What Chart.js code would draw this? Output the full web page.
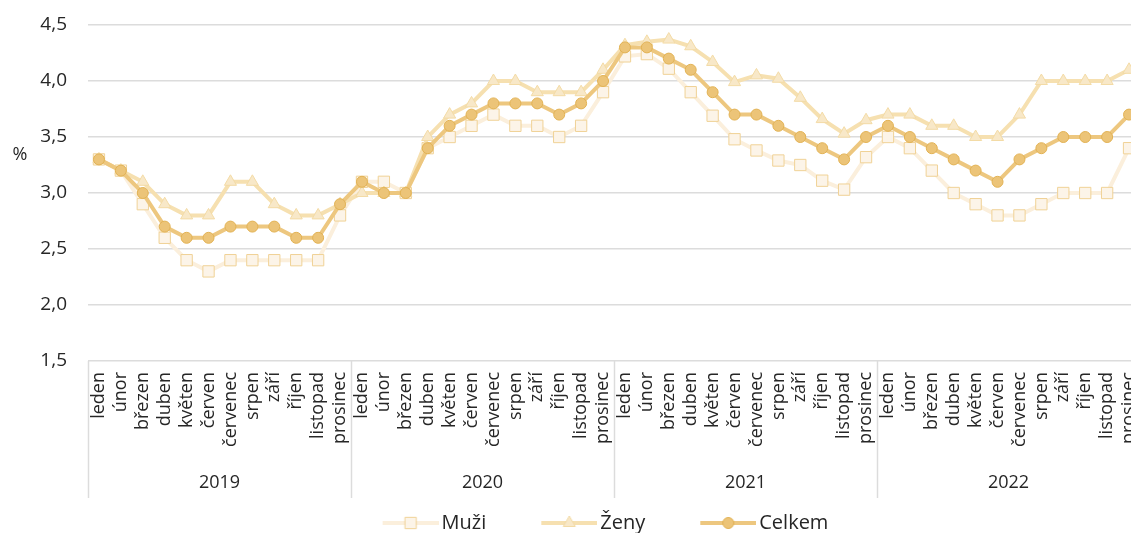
<!DOCTYPE html>
<html lang="cs">
<head>
<meta charset="utf-8">
<title>Muži, ženy, celkem</title>
<script src="https://cdn.jsdelivr.net/npm/chart.js@4/dist/chart.umd.min.js"></script>
<style>
  html, body { margin: 0; padding: 0; background: #fff; overflow: hidden; }
  #wrap { width: 1152px; height: 533px; }
</style>
</head>
<body>
<div id="wrap"><canvas id="graf" width="1152" height="533"></canvas></div>
<script>
const mesice = ['leden', 'únor', 'březen', 'duben', 'květen', 'červen', 'červenec', 'srpen', 'září', 'říjen', 'listopad', 'prosinec'];
const roky = ['2019', '2020', '2021', '2022'];
const yTicks = [1.5, 2.0, 2.5, 3.0, 3.5, 4.0, 4.5];

const muzi = [
  3.3, 3.2, 2.9, 2.6, 2.4, 2.3, 2.4, 2.4, 2.4, 2.4, 2.4, 2.8,
  3.1, 3.1, 3.0, 3.4, 3.5, 3.6, 3.7, 3.6, 3.6, 3.5, 3.6, 3.9,
  4.22, 4.24, 4.11, 3.9, 3.69, 3.48, 3.38, 3.29, 3.25, 3.11, 3.03, 3.32,
  3.5, 3.4, 3.2, 3.0, 2.9, 2.8, 2.8, 2.9, 3.0, 3.0, 3.0, 3.4
];
const zeny = [
  3.3, 3.2, 3.1, 2.9, 2.8, 2.8, 3.1, 3.1, 2.9, 2.8, 2.8, 2.9,
  3.0, 3.0, 3.0, 3.5, 3.7, 3.8, 4.0, 4.0, 3.9, 3.9, 3.9, 4.1,
  4.32, 4.35, 4.37, 4.31, 4.17, 3.99, 4.05, 4.02, 3.85, 3.66, 3.53, 3.65,
  3.7, 3.7, 3.6, 3.6, 3.5, 3.5, 3.7, 4.0, 4.0, 4.0, 4.0, 4.1
];
const celkem = [
  3.3, 3.2, 3.0, 2.7, 2.6, 2.6, 2.7, 2.7, 2.7, 2.6, 2.6, 2.9,
  3.1, 3.0, 3.0, 3.4, 3.6, 3.7, 3.8, 3.8, 3.8, 3.7, 3.8, 4.0,
  4.3, 4.3, 4.2, 4.1, 3.9, 3.7, 3.7, 3.6, 3.5, 3.4, 3.3, 3.5,
  3.6, 3.5, 3.4, 3.3, 3.2, 3.1, 3.3, 3.4, 3.5, 3.5, 3.5, 3.7
];

const popisky = roky.flatMap(() => mesice);
const pismo = "'Open Sans', sans-serif";
const barvaTextu = '#262626';
const mrizka = '#dcdcdc';
const mezera = 52;        // prazdne misto pred ikonkou v legende
const sirkaIkony = mezera + 56;

// ikonka do legendy: cara se znackou uprostred
function ikona(ds) {
  const c = document.createElement('canvas');
  c.width = sirkaIkony; c.height = 18;
  const g = c.getContext('2d');
  const x0 = mezera;
  g.strokeStyle = ds.borderColor;
  g.lineWidth = ds.borderWidth;
  g.beginPath(); g.moveTo(x0, 9); g.lineTo(x0 + 56, 9); g.stroke();
  g.fillStyle = ds.pointBackgroundColor;
  g.strokeStyle = ds.pointBorderColor;
  g.lineWidth = 1;
  g.beginPath();
  const r = ds.pointRadius;
  const cx = x0 + 28;
  if (ds.pointStyle === 'circle') {
    g.arc(cx, 9, r, 0, Math.PI * 2);
  } else if (ds.pointStyle === 'rect') {
    const s = r * Math.SQRT1_2;
    g.rect(cx - s, 9 - s, 2 * s, 2 * s);
  } else {
    g.moveTo(cx, 9 - r);
    g.lineTo(cx + r * Math.sin(Math.PI * 2 / 3), 9 + r / 2);
    g.lineTo(cx - r * Math.sin(Math.PI * 2 / 3), 9 + r / 2);
    g.closePath();
  }
  g.fill(); g.stroke();
  return c;
}

const datasets = [
  {
    label: 'Muži', data: muzi, order: 3,
    borderColor: '#fbefdc', borderWidth: 4,
    pointStyle: 'rect', pointRadius: 8, pointBackgroundColor: '#fcf4e8', pointBorderColor: '#f0d296', pointBorderWidth: 1
  },
  {
    label: 'Ženy', data: zeny, order: 2,
    borderColor: '#f6e0b0', borderWidth: 4,
    pointStyle: 'triangle', pointRadius: 7, pointBackgroundColor: '#f8e8c8', pointBorderColor: '#f3dba6', pointBorderWidth: 1
  },
  {
    label: 'Celkem', data: celkem, order: 1,
    borderColor: '#edc77f', borderWidth: 4,
    pointStyle: 'circle', pointRadius: 5.5, pointBackgroundColor: '#ecc478', pointBorderColor: '#e2b254', pointBorderWidth: 1
  }
];
datasets.forEach(ds => { ds.tension = 0; ds.fill = false; ds.pointHoverRadius = ds.pointRadius; });

// svisle oddelovace roku pod osou a znak %
const doplnky = {
  id: 'doplnky',
  afterDraw(chart) {
    const { ctx, chartArea, scales } = chart;
    const x = scales.x;
    const dole = scales.x2.bottom - 5;
    ctx.save();
    ctx.strokeStyle = mrizka;
    ctx.lineWidth = 1.5;
    const hranice = [chartArea.left];
    for (let i = 1; i < roky.length; i++) {
      const k = i * mesice.length;
      hranice.push((x.getPixelForTick(k - 1) + x.getPixelForTick(k)) / 2);
    }
    hranice.forEach(px => {
      ctx.beginPath();
      ctx.moveTo(Math.round(px) + 0.5, chartArea.bottom);
      ctx.lineTo(Math.round(px) + 0.5, dole);
      ctx.stroke();
    });
    ctx.fillStyle = barvaTextu;
    ctx.font = '18px ' + pismo;
    ctx.textAlign = 'center';
    ctx.textBaseline = 'middle';
    ctx.fillText('%', 20, scales.y.getPixelForValue(3.34));
    ctx.restore();
  }
};

const bezOkraju = (s) => { s.paddingTop = 0; s.paddingBottom = 0; s.paddingLeft = 0; s.paddingRight = 0; };

new Chart(document.getElementById('graf'), {
  type: 'line',
  data: { labels: popisky, datasets },
  options: {
    responsive: false,
    animation: false,
    layout: { padding: { top: 25, right: 12, left: 26, bottom: -10 } },
    plugins: {
      tooltip: { enabled: false },
      legend: {
        position: 'bottom',
        labels: {
          usePointStyle: true,
          pointStyleWidth: sirkaIkony - 14,
          padding: 10,
          color: barvaTextu,
          font: { family: pismo, size: 20 },
          generateLabels: (chart) => chart.data.datasets.map((ds, i) => ({
            text: ds.label,
            pointStyle: ikona(ds),
            fillStyle: ds.pointBackgroundColor,
            strokeStyle: ds.pointBorderColor,
            lineWidth: 0,
            fontColor: barvaTextu,
            hidden: false,
            datasetIndex: i
          }))
        }
      }
    },
    scales: {
      y: {
        min: 1.5, max: 4.5,
        afterFit: (s) => { s.width = 62; bezOkraju(s); },
        afterBuildTicks: (s) => { s.ticks = yTicks.map(v => ({ value: v })); },
        border: { display: false },
        grid: { color: mrizka, lineWidth: 1.5, drawTicks: false },
        ticks: {
          padding: 21,
          color: barvaTextu,
          font: { family: pismo, size: 19 },
          callback: (v) => Number(v).toFixed(1).replace('.', ',')
        }
      },
      x: {
        weight: 0,
        offset: true,
        afterFit: (s) => { s.height = 104; bezOkraju(s); },
        grid: { display: false, drawTicks: false },
        border: { display: false },
        ticks: {
          autoSkip: false, minRotation: 90, maxRotation: 90, padding: 11,
          color: barvaTextu,
          font: { family: pismo, size: 18 }
        }
      },
      x2: {
        type: 'category',
        position: 'bottom',
        weight: 1,
        labels: roky,
        offset: true,
        afterFit: (s) => { s.height = 38; bezOkraju(s); },
        grid: { display: false, drawTicks: false },
        border: { display: false },
        ticks: {
          padding: 7,
          color: barvaTextu,
          font: { family: pismo, size: 18 }
        }
      }
    }
  },
  plugins: [doplnky]
});
</script>
</body>
</html>
